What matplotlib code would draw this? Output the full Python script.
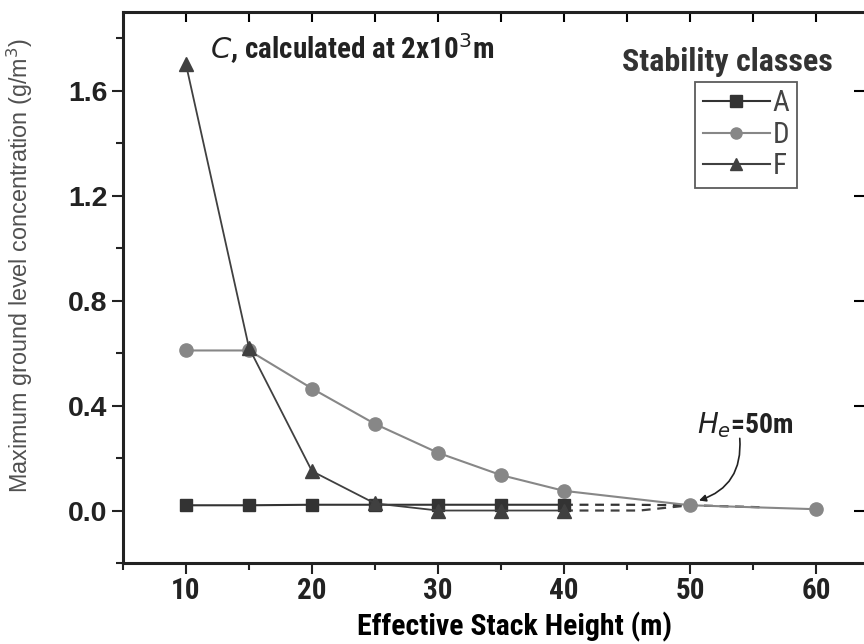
import numpy as np
import matplotlib
matplotlib.use("Agg")
import matplotlib.pyplot as plt
from matplotlib import font_manager
from matplotlib.lines import Line2D
from matplotlib.ticker import MultipleLocator

# stack heights (m)
heights = [10, 15, 20, 25, 30, 35, 40]
heights_d = [10, 15, 20, 25, 30, 35, 40, 50, 60]

# max ground level concentration (g/m3)
conc_a = [0.02, 0.02, 0.022, 0.022, 0.022, 0.022, 0.022]
conc_d = [0.61, 0.61, 0.465, 0.33, 0.22, 0.135, 0.075, 0.02, 0.005]
conc_f = [1.70, 0.62, 0.15, 0.027, 0.0, 0.0, 0.0]

# dashed extrapolations past 40 m
ext_a_x = [40, 45, 50, 56]
ext_a_y = [0.022, 0.022, 0.02, 0.012]
ext_f_x = [40, 46, 50]
ext_f_y = [0.0, 0.0, 0.02]

classes = ["A", "D", "F"]

names = {f.name for f in font_manager.fontManager.ttflist}
narrow = next((n for n in ["Liberation Sans Narrow", "Roboto Condensed",
                           "Open Sans Condensed"] if n in names), "Liberation Sans")
plt.rcParams['font.family'] = [narrow, 'DejaVu Sans']

fig = plt.figure(figsize=(8.64, 6.44), dpi=100)
ax = fig.add_axes([123 / 864, 81 / 644, 743.4 / 864, 551 / 644])

c_a = "#333333"
c_d = "#878787"
c_f = "#404040"

ax.plot(ext_a_x, ext_a_y, color=c_a, lw=1.6, ls=(0, (4, 3)))
ax.plot(ext_f_x, ext_f_y, color=c_f, lw=1.6, ls=(0, (4, 3)))
ax.plot(heights_d, conc_d, color=c_d, lw=1.5, marker="o", ms=9.5, zorder=3)
ax.plot(heights, conc_a, color=c_a, lw=1.5, marker="s", ms=8.5, zorder=4)
ax.plot(heights, conc_f, color=c_f, lw=1.3, marker="^", ms=10, zorder=5)

ax.set_xlim(5, 64)
ax.set_ylim(-0.2, 1.9)
ax.xaxis.set_major_locator(MultipleLocator(10))
ax.xaxis.set_minor_locator(MultipleLocator(5))
ax.yaxis.set_major_locator(MultipleLocator(0.4))
ax.yaxis.set_minor_locator(MultipleLocator(0.2))
ax.yaxis.set_major_formatter(lambda v, p: f"{v:.1f}")

ax.tick_params(which="both", direction="out", width=1.5, colors="#222222")
ax.tick_params(which="major", length=8)
ax.tick_params(which="minor", length=5)
ax.tick_params(axis="x", labelsize=21, pad=2)
ax.tick_params(axis="y", labelsize=20.5, pad=3)
for lab in ax.get_yticklabels():
    lab.set_fontfamily("Liberation Sans")
    lab.set_fontweight("bold")
for lab in ax.get_xticklabels():
    lab.set_fontweight("bold")

# top and right ticks point inward
secx = ax.secondary_xaxis("top")
secx.set_xticks(np.arange(10, 64, 5))
secx.tick_params(direction="in", length=7, width=1.5, labeltop=False)
secy = ax.secondary_yaxis("right")
secy.set_yticks(np.arange(0, 1.7, 0.4))
secy.tick_params(direction="in", length=9, width=1.5, labelright=False)

for s in ax.spines.values():
    s.set_linewidth(2.2)
    s.set_color("#222222")

ax.set_xlabel("Effective Stack Height (m)", fontsize=21.5, fontweight="bold")
ax.xaxis.set_label_coords(0.526, -0.088)
ax.set_ylabel("Maximum ground level concentration (g/m$^3$)", fontsize=16.8,
              family="Liberation Sans", color="#505050")
ax.yaxis.set_label_coords(-0.118, 0.54)

ax.text(11.9, 1.76, "$\\it{C}$, calculated at 2x10$^3$m", fontsize=21,
        fontweight="bold", va="center", ha="left", color="#222222")
ax.text(53.0, 1.71, "Stability classes", fontsize=23, fontweight="bold",
        va="center", ha="center", color="#333333")

handles = [
    Line2D([], [], color=c_a, lw=1.5, marker="s", ms=8),
    Line2D([], [], color=c_d, lw=1.5, marker="o", ms=8),
    Line2D([], [], color=c_f, lw=1.5, marker="^", ms=9),
]
leg = ax.legend(handles, classes, loc="upper left", bbox_to_anchor=(0.77, 0.873),
                fontsize=21, frameon=True, fancybox=False, edgecolor="#333333",
                handlelength=2.3, handletextpad=0.1, labelspacing=0.12,
                borderpad=0.25, borderaxespad=0)
leg.get_frame().set_linewidth(1.3)
for t in leg.get_texts():
    t.set_color("#444444")

ax.text(54.4, 0.325, "$\\it{H_e}$=50m", fontsize=20, fontweight="bold",
        ha="center", va="center", color="#222222")
ax.annotate("", xy=(50.5, 0.035), xytext=(53.95, 0.275),
            arrowprops=dict(arrowstyle="-|>", color="#222222", lw=1.2,
                            connectionstyle="arc3,rad=-0.4",
                            shrinkA=0, shrinkB=2))

fig.savefig("out.png", dpi=100)
